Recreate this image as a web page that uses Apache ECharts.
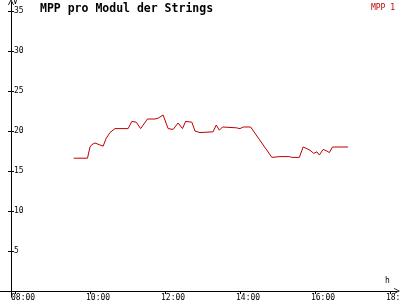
<!DOCTYPE html>
<html><head><meta charset="utf-8">
<script src="https://cdn.jsdelivr.net/npm/echarts@6/dist/echarts.min.js"></script>
<style>html,body{margin:0;padding:0;background:#fff}#c{width:400px;height:300px}</style>
</head><body><div id="c"></div>
<script>
const seriesName = 'MPP 1';
const times = ['09:34','09:56','10:00','10:03','10:08','10:21','10:26','10:32','10:40','11:01','11:07','11:14','11:21','11:32','11:44','11:49','11:57','12:05','12:13','12:21','12:28','12:33','12:43','12:48','12:56','13:17','13:22','13:27','13:32','13:54','13:55','14:00','14:05','14:17','14:51','15:04','15:19','15:23','15:26','15:35','15:41','15:47','15:52','15:58','16:03','16:07','16:13','16:19','16:23','16:28','16:53'];
const values = [16.6,16.6,18.0,18.3,18.5,18.1,19.1,19.8,20.3,20.3,21.2,21.1,20.3,21.5,21.5,21.6,22.0,20.3,20.2,21.0,20.3,21.2,21.1,20.0,19.8,19.9,20.75,20.1,20.5,20.4,20.6,20.3,20.5,20.5,16.7,16.8,16.8,16.7,16.8,16.7,18.0,17.8,17.6,17.2,17.4,17.0,17.7,17.5,17.3,18.0,18.0];
const xTickLabels = ['08:00','10:00','12:00','14:00','16:00','18:00'];
const yTicks = [5,10,15,20,25,30,35];

const toH = s => { const p = s.split(':'); return +p[0] + (+p[1]) / 60; };
const fmt = v => { const h = Math.floor(v + 1e-6), m = Math.round((v - h) * 60); return String(h).padStart(2,'0') + ':' + String(m).padStart(2,'0'); };
const xTicks = xTickLabels.map(toH);
const data = times.map((t, i) => [toH(t), values[i]]);

const FONT = '"DejaVu Sans Mono", monospace';
const arrow = 'path://M5,0 L10,10 L8.6,10 L5,2.8 L1.4,10 L0,10 Z';
const lineStyle = { color: '#000', width: 1 };

const chart = echarts.init(document.getElementById('c'), null, { renderer: 'canvas' });
chart.setOption({
  backgroundColor: '#fff',
  animation: false,
  title: { text: 'MPP pro Modul der Strings', left: 40, top: 3, padding: 0,
    textStyle: { fontFamily: FONT, fontWeight: 'bold', fontSize: 11.5, color: '#000' } },
  legend: { right: 5, top: 1, padding: 0, icon: 'none', itemWidth: 0, itemGap: 0,
    textStyle: { fontFamily: FONT, fontSize: 8, color: '#c00000', padding: 0 }, data: [seriesName] },
  grid: { left: 0, right: 3, top: 2, bottom: 3, containLabel: false, outerBoundsMode: 'none' },
  xAxis: [
    { type: 'value', min: 7.6, max: 18.187,
      axisLine: { onZero: true, lineStyle, symbol: ['none', arrow], symbolSize: [6, 8] },
      axisTick: { customValues: xTicks, length: 3, lineStyle },
      axisLabel: { customValues: xTicks, formatter: fmt, align: 'left', verticalAlign: 'top', margin: -3, padding: [0,0,0,-4],
        hideOverlap: false, fontFamily: FONT, fontSize: 8, color: '#000' },
      splitLine: { show: false } },
    { type: 'value', min: 7.6, max: 18.187,
      axisLine: { onZero: true, show: false },
      axisTick: { customValues: xTicks, inside: true, length: 3, lineStyle },
      axisLabel: { show: false }, splitLine: { show: false } }
  ],
  yAxis: [
    { type: 'value', min: -0.75, max: 36.125, offset: -11,
      axisLine: { show: true, lineStyle, symbol: ['none', arrow], symbolSize: [6, 8] },
      axisTick: { customValues: yTicks, length: 3, lineStyle },
      axisLabel: { customValues: yTicks, inside: true, margin: 3, fontFamily: FONT, fontSize: 8, color: '#000' },
      splitLine: { show: false } },
    { type: 'value', min: -0.75, max: 36.125, offset: -11, position: 'left',
      axisLine: { show: false },
      axisTick: { customValues: yTicks, inside: true, length: 3, lineStyle },
      axisLabel: { show: false }, splitLine: { show: false } }
  ],
  graphic: [
    { type: 'text', left: 13, top: -2, style: { text: 'V', font: '8px ' + FONT, fill: '#000' } },
    { type: 'text', left: 385, top: 277, style: { text: 'h', font: '8px ' + FONT, fill: '#000' } }
  ],
  series: [{
    name: seriesName, type: 'line', data, showSymbol: false, symbol: 'none',
    lineStyle: { color: '#c00000', width: 1 }, itemStyle: { color: '#c00000' }
  }]
});
</script></body></html>
